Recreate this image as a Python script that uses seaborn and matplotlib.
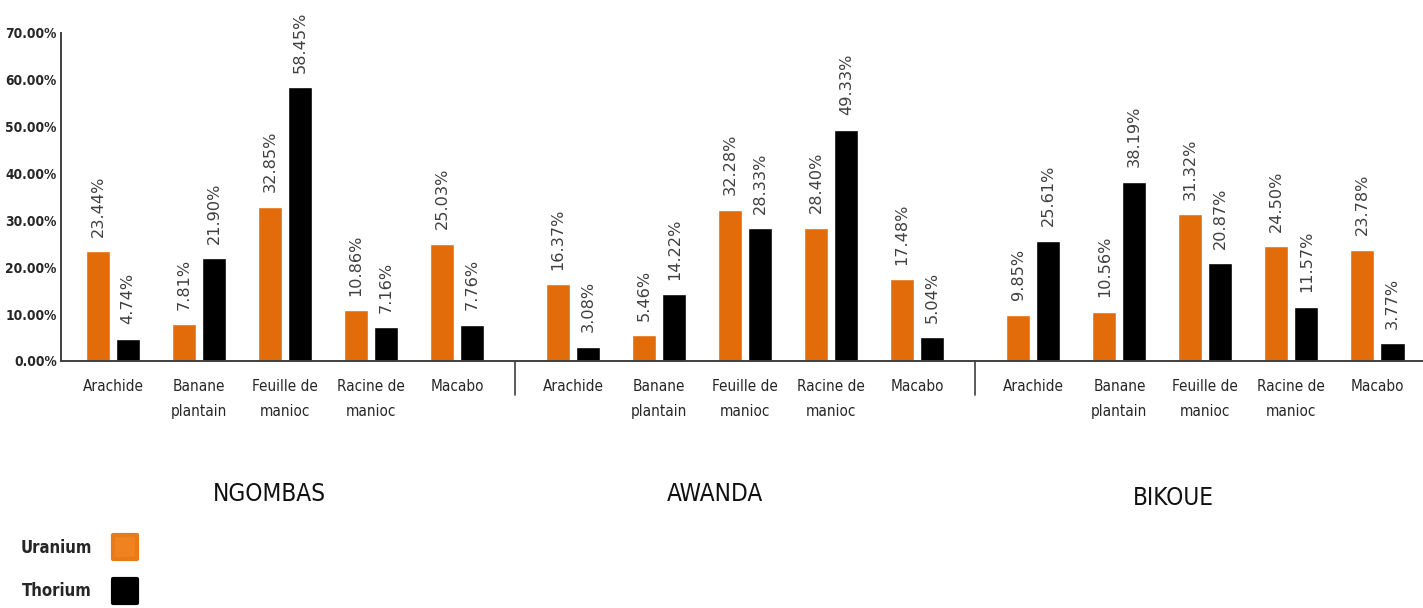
import numpy as np
import pandas as pd
import matplotlib
matplotlib.use("Agg")
import matplotlib.pyplot as plt
from matplotlib import font_manager
from matplotlib.lines import Line2D
from matplotlib.markers import MarkerStyle
import matplotlib.transforms as mtransforms
import seaborn as sns

# ---- data -------------------------------------------------------------
sites = ["NGOMBAS", "AWANDA", "BIKOUE"]
foods = ["Arachide", "Banane\nplantain", "Feuille de\nmanioc", "Racine de\nmanioc", "Macabo"]
elements = ["Uranium", "Thorium"]

uranium_ngombas = [23.44, 7.81, 32.85, 10.86, 25.03]
thorium_ngombas = [4.74, 21.90, 58.45, 7.16, 7.76]
uranium_awanda = [16.37, 5.46, 32.28, 28.40, 17.48]
thorium_awanda = [3.08, 14.22, 28.33, 49.33, 5.04]
uranium_bikoue = [9.85, 10.56, 31.32, 24.50, 23.78]
thorium_bikoue = [25.61, 38.19, 20.87, 11.57, 3.77]

y_ticks = [0, 10, 20, 30, 40, 50, 60, 70]

# ---- styling ----------------------------------------------------------
sns.set_theme(style="white")

# prefer a narrow sans face for the axis text when one is installed
narrow_family, narrow_stretch = "Roboto", "normal"
for f in font_manager.fontManager.ttflist:
    st = str(f.stretch)
    if "Narrow" in f.name or "Condensed" in f.name or st in ("condensed", "semi-condensed"):
        narrow_family, narrow_stretch = f.name, st if st in ("condensed", "semi-condensed") else "normal"
        break
plt.rcParams["font.family"] = [narrow_family, "DejaVu Sans"]
plt.rcParams["font.stretch"] = narrow_stretch
is_narrow = narrow_family != "Roboto"
scale = 1.0 if is_narrow else 0.9

ORANGE = "#E36C0A"
BLACK = "#000000"
GRAY_TEXT = "#404040"

group_gap = 0.35
uranium_by_site = [uranium_ngombas, uranium_awanda, uranium_bikoue]
thorium_by_site = [thorium_ngombas, thorium_awanda, thorium_bikoue]

rows = []
for g, site in enumerate(sites):
    for i, food in enumerate(foods):
        pos = g * (len(foods) + group_gap) + i
        rows.append(dict(site=site, food=food, pos=pos, element="Uranium",
                         value=uranium_by_site[g][i]))
        rows.append(dict(site=site, food=food, pos=pos, element="Thorium",
                         value=thorium_by_site[g][i]))
df = pd.DataFrame(rows)

fig = plt.figure(figsize=(14.23, 6.08), dpi=100)
W, H = 1423, 608
# axes box in pixels: left 61, right 1423, bottom 361, top 33
ax = fig.add_axes([61 / W, (H - 361) / H, (1423 - 61) / W, (361 - 33) / H])

sns.barplot(data=df, x="pos", y="value", hue="element", hue_order=elements,
            palette={"Uranium": ORANGE, "Thorium": BLACK}, native_scale=True,
            width=0.70, gap=0.2, dodge=True, errorbar=None, legend=False,
            saturation=1, ax=ax)

ax.set_xlim(-0.605, 15.23)
ax.set_ylim(0, 70)

# value labels, rotated above each bar
for container in ax.containers:
    for bar in container:
        h = bar.get_height()
        ax.annotate(f"{h:.2f}%", (bar.get_x() + bar.get_width() / 2, h),
                    xytext=(0, 10.5), textcoords="offset points",
                    rotation=90, ha="center", va="bottom",
                    fontsize=11.6, color=GRAY_TEXT, family="DejaVu Sans",
                    stretch="normal")

# axes
ax.set_yticks(y_ticks)
ax.set_yticklabels([f"{t:.2f}%" for t in y_ticks], fontsize=9.8 * scale,
                   fontweight="bold", color="#262626")
ax.tick_params(axis="y", length=0, pad=3)
positions = sorted(df["pos"].unique())
ax.set_xticks(positions)
ax.set_xticklabels(foods * len(sites), fontsize=11 * scale, color="#262626",
                   linespacing=1.8, va="top")
ax.tick_params(axis="x", length=0, pad=13)
ax.set_xlabel("")
ax.set_ylabel("")
for side in ("top", "right"):
    ax.spines[side].set_visible(False)
ax.spines["left"].set_color("#404040")
ax.spines["left"].set_linewidth(1.4)
ax.spines["bottom"].set_color("#404040")
ax.spines["bottom"].set_linewidth(1.4)
ax.grid(False)

# separators between the site groups
trans = mtransforms.blended_transform_factory(ax.transData, ax.transAxes)
for g in range(1, len(sites)):
    xsep = g * (len(foods) + group_gap) - (1 + group_gap) / 2
    ax.plot([xsep, xsep], [0, -34 / 328], transform=trans, color="#404040",
            lw=1.2, clip_on=False)

# site names
site_x = [269, 715, 1173]
site_y = [494, 494, 498]
for name, sx, sy in zip(sites, site_x, site_y):
    fig.text(sx / W, 1 - sy / H, name, ha="center", va="center",
             fontsize=17.5 if is_narrow else 16, color="#111111")

# legend with the swatch after the label
swatch = MarkerStyle("s", joinstyle="round")
handles = [
    Line2D([], [], ls="none", marker=swatch, markersize=17, color="#F0831F",
           markeredgecolor="#E87A18", markeredgewidth=3),
    Line2D([], [], ls="none", marker=swatch, markersize=17, color=BLACK,
           markeredgecolor=BLACK, markeredgewidth=3),
]
fig.legend(handles, elements, markerfirst=False, frameon=False,
           loc="upper left", bbox_to_anchor=(14 / W, 1 - 532 / H),
           prop=dict(family=narrow_family, stretch=narrow_stretch,
                     weight="bold", size=12 * scale),
           labelspacing=1.55, handletextpad=1.2, handlelength=1.5,
           borderaxespad=0)

fig.savefig("out.png", dpi=100, facecolor="white")
